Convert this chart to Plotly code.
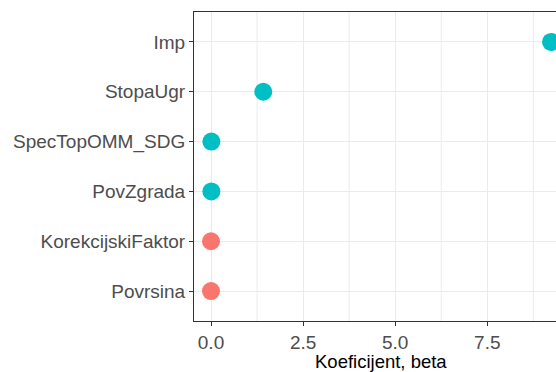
import plotly.graph_objects as go

# Regression coefficients (beta) per predictor
variables = ["Povrsina", "KorekcijskiFaktor", "PovZgrada", "SpecTopOMM_SDG", "StopaUgr", "Imp"]
beta = [0.0, 0.0, 0.01, 0.01, 1.42, 9.23]
group = ["neg", "neg", "pos", "pos", "pos", "pos"]
x_ticks = [0.0, 2.5, 5.0, 7.5]
x_tick_labels = ["0.0", "2.5", "5.0", "7.5"]

palette = {"neg": "#F8766D", "pos": "#00BFC4"}

W, H = 556, 372
left, top, bottom = 194, 12, 51

# ggplot-like 5% expansion of the data range
lo, hi = min(beta), max(beta)
span = hi - lo
full_lo, full_hi = lo - 0.05 * span, hi + 0.05 * span
px_per_unit = (568 - left) / (full_hi - full_lo)
vis_hi = full_lo + (W - left) / px_per_unit
title_x = (full_lo + full_hi) / 2

fig = go.Figure()
for g in ["neg", "pos"]:
    xs = [b for b, gg in zip(beta, group) if gg == g]
    ys = [v for v, gg in zip(variables, group) if gg == g]
    fig.add_trace(go.Scatter(
        x=xs, y=ys, mode="markers",
        marker=dict(size=18, color=palette[g], line=dict(width=0)),
        showlegend=False, cliponaxis=True,
    ))

minor = [1.25, 3.75, 6.25, 8.75]
for m in minor:
    fig.add_shape(type="line", xref="x", yref="paper", x0=m, x1=m, y0=0, y1=1,
                  line=dict(color="#EBEBEB", width=1), layer="below")

fig.add_annotation(
    text="Koeficijent, beta", x=title_x, xref="x", y=-0.094, yref="paper",
    xanchor="center", yanchor="top", showarrow=False, borderpad=0,
    font=dict(family="Liberation Sans, Arial", size=18.5, color="#000000"),
)

fig.update_layout(
    width=W, height=H,
    margin=dict(l=left, r=0, t=top, b=bottom),
    paper_bgcolor="white", plot_bgcolor="white",
    font=dict(family="Liberation Sans, Arial", size=19, color="#4D4D4D"),
    xaxis=dict(
        range=[full_lo, vis_hi], tickvals=x_ticks, ticktext=x_tick_labels,
        showgrid=True, gridcolor="#EBEBEB", gridwidth=1, zeroline=False,
        showline=True, linecolor="#333333", linewidth=1, mirror=True,
        ticks="outside", ticklen=4, tickcolor="#333333", tickwidth=1,
        tickfont=dict(size=19, color="#4D4D4D"),
    ),
    yaxis=dict(
        categoryorder="array", categoryarray=variables, range=[-0.6, 5.6],
        showgrid=True, gridcolor="#EBEBEB", gridwidth=1, zeroline=False,
        showline=True, linecolor="#333333", linewidth=1,
        ticks="outside", ticklen=4, tickcolor="#333333", tickwidth=1,
        tickfont=dict(size=19, color="#4D4D4D"),
    ),
)

fig.write_html("out.html")
